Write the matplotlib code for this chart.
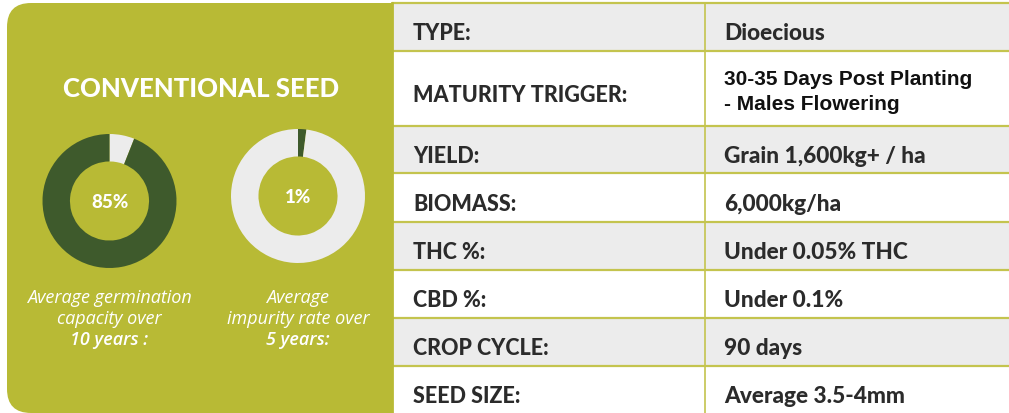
import matplotlib.pyplot as plt
from matplotlib.patches import FancyBboxPatch, Rectangle

# --- data ---
row_labels = ['TYPE:', 'MATURITY TRIGGER:', 'YIELD:', 'BIOMASS:', 'THC %:',
              'CBD %:', 'CROP CYCLE:', 'SEED SIZE:']
row_values = ['Dioecious', '30-35 Days Post Planting\n- Males Flowering',
              'Grain 1,600kg+ / ha', '6,000kg/ha', 'Under 0.05% THC',
              'Under 0.1%', '90 days', 'Average 3.5-4mm']

panel_title = 'CONVENTIONAL SEED'
donut_labels = ['85%', '1%']
# arc shares as drawn, clockwise from 12 o'clock
donut_shares = [[6, 94], [2, 98]]
donut_captions = [['Average germination', 'capacity over', '10 years :'],
                  ['Average', 'impurity rate over', '5 years:']]

# --- layout (pixels) ---
W, H = 1009, 414
row_edges = [4, 52, 127, 174, 223, 271, 319, 367, 414]
col_x = [393, 705, 1009]
donut_centers = [(109.5, 202), (298, 197)]
donut_r = 67

OLIVE = '#b8ba35'
DARK = '#3e5a2c'
LIGHT = '#ececec'
LINE = '#c4c44e'
TEXT = '#2b2b2b'

fig = plt.figure(figsize=(W / 100, H / 100), dpi=100)
ax = fig.add_axes([0, 0, 1, 1])
ax.set_xlim(0, W)
ax.set_ylim(H, 0)
ax.axis('off')

# left panel with rounded left corners (right side hidden under the table)
ax.add_patch(FancyBboxPatch((7, 4), 440, 410, boxstyle='round,pad=0,rounding_size=24',
                            fc=OLIVE, ec='none', zorder=1))

# table rows
for i in range(len(row_labels)):
    y0, y1 = row_edges[i], row_edges[i + 1]
    fc = LIGHT if i % 2 == 0 else 'white'
    ax.add_patch(Rectangle((col_x[0], y0), col_x[2] - col_x[0], y1 - y0,
                           fc=fc, ec='none', zorder=2))
for y in row_edges[:-1]:
    ax.plot([col_x[0], col_x[2]], [y, y], color=LINE, lw=1.6, zorder=3)
ax.plot([col_x[1], col_x[1]], [row_edges[0], H], color=LINE, lw=1.2, zorder=3)
ax.plot([col_x[0] - 1, col_x[0] - 1], [row_edges[0], H], color=OLIVE, lw=2, zorder=3)

for i, (lab, val) in enumerate(zip(row_labels, row_values)):
    yc = (row_edges[i] + row_edges[i + 1]) / 2
    ax.text(413, yc + 12.5, lab, fontsize=15.5, fontweight='black', family='Lato',
            color=TEXT, va='baseline', ha='left', zorder=4)
    if '\n' in val:
        l1, l2 = val.split('\n')
        ax.text(724, 85, l1, fontsize=15, fontweight='bold', family='Liberation Sans',
                color='#111111', va='baseline', ha='left', zorder=4)
        ax.text(724, 110, l2, fontsize=15, fontweight='bold', family='Liberation Sans',
                color='#111111', va='baseline', ha='left', zorder=4)
    else:
        ax.text(724, yc + 12.5, val, fontsize=16.3, fontweight='black', family='Lato',
                color=TEXT, va='baseline', ha='left', zorder=4)

# panel title
ax.text(201, 97, panel_title, fontsize=18.5, fontweight='black', family='Lato',
        color='white', ha='center', va='baseline', zorder=4)

# donuts
donut_colors = [[LIGHT, DARK], [DARK, LIGHT]]
for (cx, cy), shares, cols, lab, cap in zip(donut_centers, donut_shares, donut_colors,
                                           donut_labels, donut_captions):
    dax = fig.add_axes([(cx - donut_r) / W, (H - cy - donut_r) / H,
                        2 * donut_r / W, 2 * donut_r / H])
    dax.pie(shares, colors=cols, startangle=90, counterclock=False, radius=1,
            wedgeprops=dict(width=0.41, linewidth=0))
    dax.set_xlim(-1, 1)
    dax.set_ylim(-1, 1)
    dax.set_aspect('equal')
    dax.axis('off')
    ax.text(cx, cy + 6.5, lab, fontsize=13.5, fontweight='black', family='Lato',
            color='white', ha='center', va='baseline', zorder=4)
    for k, line in enumerate(cap):
        weight = 'semibold' if k == 2 else 'normal'
        ax.text(cx, 303 + 21 * k, line, fontsize=13, style='italic', fontweight=weight,
                family='Open Sans', color='white', ha='center', va='baseline', zorder=4)

fig.savefig('out.png', dpi=100)
